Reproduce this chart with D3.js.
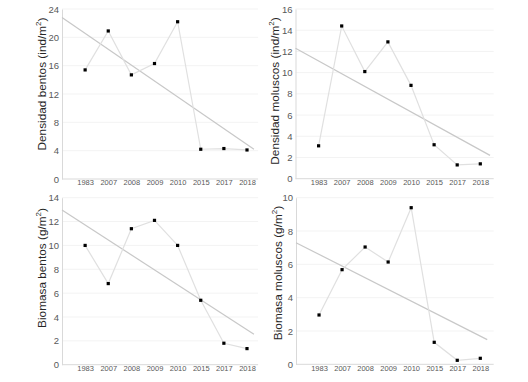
<!DOCTYPE html>
<html>
<head>
<meta charset="utf-8">
<script src="https://cdn.jsdelivr.net/npm/d3@7"></script>
<style>
  body { margin: 0; background: #fff; }
  svg { display: block; font-family: "Liberation Sans", Arial, sans-serif; }
</style>
</head>
<body>
<div id="chart"></div>
<script>
// categories (years) shared by all four panels
const years = ['1983', '2007', '2008', '2009', '2010', '2015', '2017', '2018'];

// values
const densBentos = [15.4, 20.9, 14.7, 16.3, 22.2, 4.2, 4.3, 4.1];
const densMoluscos = [3.1, 14.4, 10.1, 12.9, 8.8, 3.2, 1.3, 1.4];
const bioBentos = [10.0, 6.8, 11.4, 12.1, 10.0, 5.4, 1.8, 1.35];
const bioMoluscos = [2.96, 5.68, 7.04, 6.14, 9.4, 1.32, 0.24, 0.36];

// linear trend line ends (start at the y axis, end near the last year)
const trendDensBentos = [22.8, 4.2];
const trendDensMoluscos = [12.3, 2.2];
const trendBioBentos = [12.97, 2.55];
const trendBioMoluscos = [7.3, 1.48];

// y axis ticks
const ticksDensBentos = [0, 4, 8, 12, 16, 20, 24];
const ticksDensMoluscos = [0, 2, 4, 6, 8, 10, 12, 14, 16];
const ticksBioBentos = [0, 2, 4, 6, 8, 10, 12, 14];
const ticksBioMoluscos = [0, 2, 4, 6, 8, 10];

const panels = [
  { values: densBentos, trend: trendDensBentos, ticks: ticksDensBentos, label: 'Densidad bentos (ind/m', unit: ')',
    left: 62, x1: 247, xEnd: 8.48, trendEnd: 8.3, top: 9, bottom: 179, labelX: 45.5, labelY: 84 },
  { values: densMoluscos, trend: trendDensMoluscos, ticks: ticksDensMoluscos, label: 'Densidad moluscos (ind/m', unit: ')',
    left: 295.5, x1: 480.3, xEnd: 8.58, trendEnd: 8.42, top: 9, bottom: 178.7, labelX: 279, labelY: 91 },
  { values: bioBentos, trend: trendBioBentos, ticks: ticksBioBentos, label: 'Biomasa bentos (g/m', unit: ')',
    left: 62, x1: 247, xEnd: 8.48, trendEnd: 8.3, top: 197.7, bottom: 364.7, labelX: 45.5, labelY: 268 },
  { values: bioMoluscos, trend: trendBioMoluscos, ticks: ticksBioMoluscos, label: 'Biomasa moluscos (g/m', unit: ')',
    left: 296, x1: 480.3, xEnd: 8.58, trendEnd: 8.3, top: 197.7, bottom: 364.3, labelX: 281.5, labelY: 273 }
];

const svg = d3.select('#chart')
  .append('svg')
  .attr('width', 528)
  .attr('height', 382);

panels.forEach(function(p) {
  const maxTick = p.ticks[p.ticks.length - 1];

  // position 0 is the y axis, years sit on 1..8
  const x = d3.scaleLinear()
    .domain([1, 8])
    .range([p.left + (p.x1 - p.left) / 8, p.x1]);
  const y = d3.scaleLinear()
    .domain([0, maxTick])
    .range([p.bottom, p.top]);

  const g = svg.append('g');

  // faint gridlines
  g.selectAll('.grid')
    .data(p.ticks.slice(1))
    .enter()
    .append('line')
    .attr('x1', x(0))
    .attr('x2', x(p.xEnd))
    .attr('y1', d => y(d))
    .attr('y2', d => y(d))
    .attr('stroke', '#f3f3f3')
    .attr('stroke-width', 1);

  // y axis
  const yAxis = g.append('g')
    .attr('transform', 'translate(' + x(0) + ',0)')
    .call(d3.axisLeft(y).tickValues(p.ticks).tickSize(0).tickPadding(3));
  yAxis.select('.domain').attr('stroke', '#d9d9d9');
  yAxis.selectAll('text')
    .attr('fill', '#595959')
    .style('font-size', '9.5px')
    .style('font-family', '"Liberation Sans", Arial, sans-serif');

  // x axis
  const xAxis = g.append('g')
    .attr('transform', 'translate(0,' + y(0) + ')')
    .call(d3.axisBottom(x).tickValues(d3.range(1, 9)).tickFormat(d => years[d - 1]).tickSize(0).tickPadding(1));
  xAxis.select('.domain')
    .attr('d', 'M' + x(0) + ',0H' + x(p.xEnd))
    .attr('stroke', '#d9d9d9');
  xAxis.selectAll('text')
    .attr('fill', '#595959')
    .style('font-size', '7.5px')
    .style('font-family', '"Liberation Sans", Arial, sans-serif');

  // trend line
  g.append('line')
    .attr('x1', x(0))
    .attr('y1', y(p.trend[0]))
    .attr('x2', x(p.trendEnd))
    .attr('y2', y(p.trend[1]))
    .attr('stroke', '#c8c8c8')
    .attr('stroke-width', 1.2);

  // data line
  const line = d3.line()
    .x((d, i) => x(i + 1))
    .y(d => y(d));
  g.append('path')
    .datum(p.values)
    .attr('d', line)
    .attr('fill', 'none')
    .attr('stroke', '#e0e0e0')
    .attr('stroke-width', 1.2);

  // markers
  g.selectAll('.pt')
    .data(p.values)
    .enter()
    .append('rect')
    .attr('x', (d, i) => x(i + 1) - 1.6)
    .attr('y', d => y(d) - 1.6)
    .attr('width', 3.2)
    .attr('height', 3.2)
    .attr('fill', '#000');

  // y axis title with superscript 2
  const t = g.append('text')
    .attr('transform', 'translate(' + p.labelX + ',' + p.labelY + ') rotate(-90)')
    .attr('text-anchor', 'middle')
    .attr('fill', '#262626')
    .style('font-size', '11.8px');
  t.append('tspan').text(p.label);
  t.append('tspan').attr('dy', -5).style('font-size', '8px').text('2');
  t.append('tspan').attr('dy', 5).text(p.unit);
});
</script>
</body>
</html>
